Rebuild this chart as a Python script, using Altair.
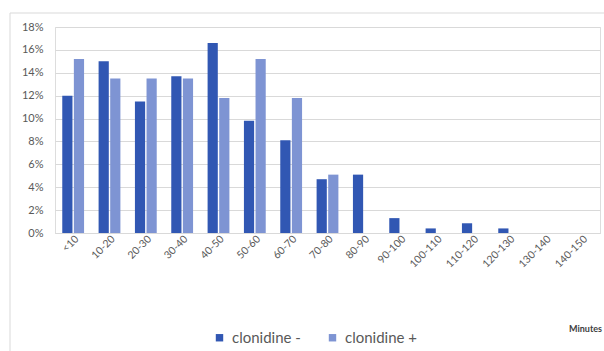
import altair as alt
import pandas as pd

categories = ["<10", "10-20", "20-30", "30-40", "40-50", "50-60", "60-70", "70-80",
              "80-90", "90-100", "100-110", "110-120", "120-130", "130-140", "140-150"]
clonidine_minus = [12.0, 15.0, 11.5, 13.7, 16.6, 9.8, 8.1, 4.7, 5.1, 1.3, 0.4, 0.85, 0.4, 0.0, 0.0]
clonidine_plus = [15.2, 13.5, 13.5, 13.5, 11.8, 15.2, 11.8, 5.1, 0.0, 0.0, 0.0, 0.0, 0.0, 0.0, 0.0]
series = ["clonidine -", "clonidine +"]
colors = ["#3157B3", "#7E94D3"]

rows = []
for i, c in enumerate(categories):
    rows.append({"cat": c, "series": series[0], "val": clonidine_minus[i] / 100})
    rows.append({"cat": c, "series": series[1], "val": clonidine_plus[i] / 100})
df = pd.DataFrame(rows)

FONT = "Lato"
GREY = "#595959"

bars = alt.Chart(df).mark_bar().encode(
    x=alt.X("cat:N", sort=categories, title=None,
            scale=alt.Scale(paddingInner=0.4, paddingOuter=0.2),
            axis=alt.Axis(labelAngle=-45, labelFontSize=10.5, labelColor=GREY, labelFont=FONT,
                          labelBaseline="middle", labelAlign="right",
                          ticks=False, domain=True, domainColor="#d9d9d9", labelPadding=4,
                          labelOffset=4)),
    xOffset=alt.XOffset("series:N", sort=series, scale=alt.Scale(paddingInner=0.12)),
    y=alt.Y("val:Q", title=None,
            scale=alt.Scale(domain=[0, 0.18], nice=False),
            axis=alt.Axis(format=".0%", values=[i / 100 for i in range(0, 19, 2)],
                          labelFontSize=11, labelColor=GREY, labelFont=FONT,
                          ticks=False, domain=False, gridColor="#d9d9d9", labelPadding=12)),
    color=alt.Color("series:N", sort=series,
                    scale=alt.Scale(domain=series, range=colors),
                    legend=alt.Legend(title=None, orient="none", legendX=157, legendY=303,
                                      direction="horizontal", symbolType="square",
                                      symbolSize=55, symbolStrokeWidth=0,
                                      labelFontSize=15, labelFont=FONT, labelColor=GREY,
                                      columnPadding=24, labelOffset=5)),
)

frame_left = alt.Chart(pd.DataFrame({"a": [0]})).mark_rule(color="#d9d9d9", strokeWidth=1).encode(
    x=alt.value(-45), y=alt.value(-14), y2=alt.value(400))
frame_top = alt.Chart(pd.DataFrame({"a": [0]})).mark_rule(color="#d9d9d9", strokeWidth=1).encode(
    x=alt.value(-45), x2=alt.value(600), y=alt.value(-14))
minute = alt.Chart(pd.DataFrame({"t": ["Minutes"]})).mark_text(
    align="left", baseline="middle", fontSize=9, font=FONT, color="#404040", fontWeight="bold"
).encode(x=alt.value(514), y=alt.value(302), text="t:N")

chart = alt.layer(frame_left, frame_top, bars, minute).properties(
    width=545, height=206,
    autosize=alt.AutoSizeParams(type="none"),
    padding={"left": 55, "top": 27, "right": 4, "bottom": 118},
).configure_view(stroke=None).configure(background="white")

chart.save("out.html", embed_options={"renderer": "svg", "actions": False})
